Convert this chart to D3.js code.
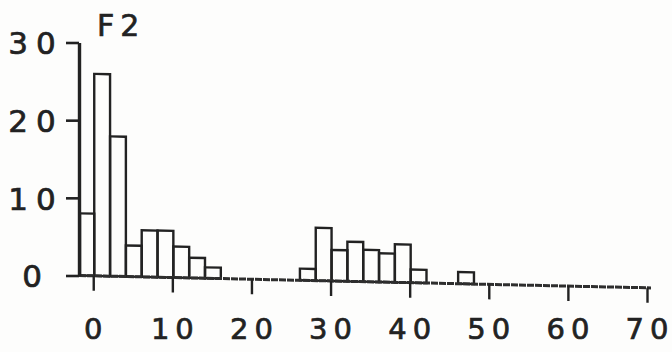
<!DOCTYPE html>
<html>
<head>
<meta charset="utf-8">
<script src="https://cdn.jsdelivr.net/npm/d3@7"></script>
<style>
  html, body { margin: 0; padding: 0; background: #fdfdfc; }
  svg { display: block; }
  .lbl { font-family: "DejaVu Sans", "Liberation Sans", sans-serif; fill: #222; stroke: #222; stroke-width: 0.7px; }
</style>
</head>
<body>
<div id="chart"></div>
<script>
// histogram bins (lower edge), width 2
const binStart = [-2, 0, 2, 4, 6, 8, 10, 12, 14, 26, 28, 30, 32, 34, 36, 38, 40, 46];
const freq     = [8, 26, 18, 4, 6, 6, 4, 2.6, 1.4, 1.5, 6.8, 4, 5.1, 4.1, 3.7, 4.9, 1.7, 1.5];
const binWidth = 2;

const xTicks = [0, 10, 20, 30, 40, 50, 60, 70];
const yTicks = [0, 10, 20, 30];
const panelLabel = 'F2';

(function(){
  const W = 672, H = 352;
  const INK = '#222';

  const svg = d3.select('#chart').append('svg')
    .attr('width', W).attr('height', H);

  const x = d3.scaleLinear().domain([-1.8, 70]).range([79, 647]);
  const y = d3.scaleLinear().domain([0, 30]).range([275.5, 42.5]);

  const x0 = x(-1.8), y0 = y(0);

  // spaced-out digits without trailing letter-spacing
  function spaced(sel, gap){
    sel.each(function(d){
      const t = d3.select(this);
      const s = String(t.text() || d);
      t.text(null);
      t.selectAll('tspan').data(s.split('')).enter().append('tspan')
        .attr('dx', (c, i) => i ? gap : 0)
        .text(c => c);
    });
  }

  // the scan is slightly tilted: baseline drops to the right
  const plot = svg.append('g')
    .attr('transform', `translate(${x0},${y0}) skewY(1.24) translate(${-x0},${-y0})`);

  // bars
  plot.selectAll('rect.bar')
    .data(binStart.map((s, i) => ({ s, v: freq[i] })))
    .enter().append('rect')
    .attr('class', 'bar')
    .attr('x', d => x(Math.max(d.s, -1.8)) + 1)
    .attr('width', d => x(d.s + binWidth) - x(Math.max(d.s, -1.8)))
    .attr('y', d => y(d.v))
    .attr('height', d => y(0) - y(d.v))
    .attr('fill', 'none')
    .attr('stroke', INK)
    .attr('stroke-width', 2.4);

  // x axis line + ticks (labels drawn separately, not tilted)
  const xa = plot.append('g')
    .attr('transform', `translate(0,${y0})`)
    .call(d3.axisBottom(x).tickValues(xTicks).tickSize(15).tickSizeOuter(0).tickFormat(''));
  xa.select('.domain')
    .attr('d', `M${x0},0H${x(70) + 4}`)
    .attr('stroke', '#2e2e2e').attr('stroke-width', 3)
    .attr('stroke-dasharray', '7,1');
  xa.selectAll('.tick line').attr('stroke', INK).attr('stroke-width', 2.4);

  // y axis
  const ya = svg.append('g')
    .attr('transform', `translate(${x0},0)`)
    .call(d3.axisLeft(y).tickValues(yTicks).tickSize(13).tickSizeOuter(0));
  ya.select('.domain').attr('stroke', INK).attr('stroke-width', 3.4);
  ya.selectAll('.tick line').attr('stroke', INK).attr('stroke-width', 2.6);
  ya.selectAll('.tick text')
    .attr('class', 'lbl')
    .attr('x', 32 - x0)
    .attr('dy', '0.36em')
    .attr('text-anchor', 'middle')
    .style('font-size', '31px')
    .style('fill', '#222')
    .call(spaced, 8);

  // x tick labels
  svg.append('g').selectAll('text')
    .data(xTicks).enter().append('text')
    .attr('class', 'lbl')
    .attr('x', d => x(d))
    .attr('y', 339)
    .attr('text-anchor', 'middle')
    .style('font-size', '29px')
    .text(d => d)
    .call(spaced, 6);

  // panel label
  svg.append('text')
    .attr('class', 'lbl')
    .attr('x', 97)
    .attr('y', 36)
    .style('font-size', '30px')
    .text(panelLabel)
    .call(spaced, 6);
})();
</script>
</body>
</html>
